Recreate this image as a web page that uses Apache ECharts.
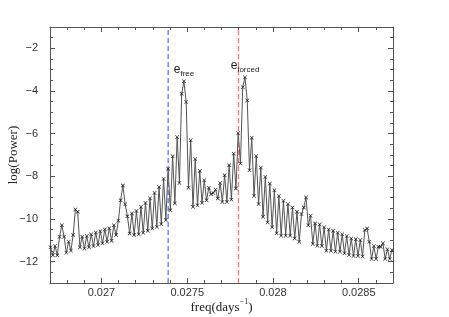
<!DOCTYPE html>
<html>
<head>
<meta charset="utf-8">
<script src="https://cdn.jsdelivr.net/npm/echarts@6/dist/echarts.min.js"></script>
<style>html,body{margin:0;padding:0;background:#fff;}#chart{width:449px;height:317px;}</style>
</head>
<body>
<div id="chart"></div>
<script>
// frequency grid (uniform periodogram sampling)
const freqStart = 0.0267031;
const freqStep = 0.000013184;
// log(Power) values
const logPower = [
-11.33,-11.70,-11.27,-11.70,-10.83,-10.29,-10.83,-11.58,-11.07,-11.48,
-10.75,-9.55,-9.66,-11.33,-10.83,-11.39,-10.80,-11.33,-10.72,-11.27,
-10.63,-11.22,-10.57,-11.14,-10.49,-11.07,-10.43,-11.02,-10.29,-10.75,
-10.08,-9.12,-8.43,-9.31,-9.87,-10.68,-9.74,-10.75,-9.62,-10.72,
-9.43,-10.65,-9.25,-10.55,-9.03,-10.45,-8.78,-10.37,-8.50,-10.24,
-8.12,-10.05,-7.64,-9.59,-7.06,-9.27,-6.16,-8.31,-4.13,-3.54,
-4.52,-8.53,-6.31,-9.43,-7.19,-9.36,-7.75,-9.24,-8.18,-9.12,
-8.53,-8.84,-8.78,-8.62,-9.04,-8.31,-9.20,-7.95,-9.20,-7.48,
-9.09,-6.94,-8.57,-5.97,-7.40,-3.82,-3.36,
-4.44,-7.71,-6.19,-8.92,-7.05,-9.30,-7.59,-9.90,-8.03,-10.16,
-8.34,-10.39,-8.65,-10.67,-8.92,-10.78,-9.15,-10.78,-9.30,-10.78,
-9.46,-10.91,-9.66,-11.07,-9.77,-9.46,-8.99,-10.29,-9.85,-11.17,
-10.21,
-11.25,-10.25,-11.27,-10.39,-11.49,-10.49,-11.49,-10.55,-11.53,-10.64,
-11.53,-10.72,-11.61,-10.80,-11.69,-10.91,-11.73,-10.95,-11.73,-10.99,
-11.76,-10.52,-10.44,-11.07,-11.87,-11.27,-11.87,-11.30,-11.30,-11.14,
-11.87,-11.42,-11.87,-11.45
];
const xMajorTicks = [0.027, 0.0275, 0.028, 0.0285];
const yMajorTicks = [-12, -10, -8, -6, -4, -2];
const freeFreq = 0.027389;
const forcedFreq = 0.027799;
const yMin = -13, yMax = -1;

const points = logPower.map((v, i) => [freqStart + i * freqStep, v]);

const axisColor = '#555';
const labelFont = {fontFamily: 'Liberation Sans', fontSize: 11, color: '#333'};

function xAxisDef(position, major, showLabel, showLine) {
  const a = {
    type: 'value', position: position, min: 0.0267, max: 0.0287,
    splitLine: {show: false},
    axisLine: {show: showLine, lineStyle: {color: axisColor, width: 1}},
    axisTick: {show: true, inside: true, length: major ? 5 : 3, lineStyle: {color: axisColor, width: 1}},
    axisLabel: {show: false}
  };
  if (major) {
    a.axisTick.customValues = xMajorTicks;
    a.axisLabel = {show: showLabel, customValues: xMajorTicks, margin: 4,
      formatter: v => String(+(+v).toFixed(5)), ...labelFont};
  } else {
    a.interval = 0.0001;
  }
  return a;
}
function yAxisDef(position, major, showLabel, showLine) {
  const a = {
    type: 'value', position: position, min: yMin, max: yMax,
    splitLine: {show: false},
    axisLine: {show: showLine, lineStyle: {color: axisColor, width: 1}},
    axisTick: {show: true, inside: true, length: major ? 5 : 3, lineStyle: {color: axisColor, width: 1}},
    axisLabel: {show: false}
  };
  if (major) {
    a.axisTick.customValues = yMajorTicks;
    a.axisLabel = {show: showLabel, customValues: yMajorTicks, margin: 12,
      formatter: v => String(v).replace('-', '\u2212'), ...labelFont};
  } else {
    a.interval = 0.5;
  }
  return a;
}

const xAxes = [
  xAxisDef('bottom', true, true, true),
  xAxisDef('bottom', false, false, false),
  xAxisDef('top', true, false, true),
  xAxisDef('top', false, false, false)
];
xAxes[0].name = '{n|freq(days}{s|\u22121}{n|)}';
xAxes[0].nameLocation = 'middle';
xAxes[0].nameGap = 15;
xAxes[0].nameMoveOverlap = false;
xAxes[0].nameTextStyle = {
  rich: {
    n: {fontFamily: 'Liberation Serif', fontSize: 13, color: '#222', lineHeight: 16, verticalAlign: 'bottom'},
    s: {fontFamily: 'Liberation Serif', fontSize: 8, color: '#222', lineHeight: 8, verticalAlign: 'top'}
  }
};
const yAxes = [
  yAxisDef('left', true, true, true),
  yAxisDef('left', false, false, false),
  yAxisDef('right', true, false, true),
  yAxisDef('right', false, false, false)
];
yAxes[0].name = 'log(Power)';
yAxes[0].nameLocation = 'middle';
yAxes[0].nameRotate = 90;
yAxes[0].nameGap = 30;
yAxes[0].nameMoveOverlap = false;
yAxes[0].nameTextStyle = {fontFamily: 'Liberation Serif', fontSize: 13, color: '#222'};

const textLabel = (coord, text, size) => ({
  coord: coord, symbol: 'circle', symbolSize: 0,
  label: {show: true, position: 'inside', formatter: text, fontFamily: 'Liberation Sans', fontSize: size, color: '#222'}
});

const vline = (freq, color) => ({
  type: 'line', xAxisIndex: 0, yAxisIndex: 0, silent: true,
  data: [[freq, yMin], [freq, yMax]],
  symbol: 'none',
  lineStyle: {color: color, type: [5, 3], width: 1.3}
});

const chart = echarts.init(document.getElementById('chart'), null, {renderer: 'canvas'});
chart.setOption({
  animation: false,
  backgroundColor: '#fff',
  grid: {left: 50, right: 56, top: 27, bottom: 34, containLabel: false, outerBoundsMode: 'none'},
  xAxis: xAxes,
  yAxis: yAxes,
  series: [
    vline(freeFreq, '#6470ff'),
    vline(forcedFreq, '#ff7272'),
    {
      type: 'line',
      xAxisIndex: 0, yAxisIndex: 0,
      data: points,
      showAllSymbol: true,
      symbol: 'path://M0,1 L1,0 L5,4 L9,0 L10,1 L6,5 L10,9 L9,10 L5,6 L1,10 L0,9 L4,5 Z',
      symbolSize: 4,
      itemStyle: {color: '#111'},
      lineStyle: {color: '#555', width: 1},
      markPoint: {
        silent: true,
        data: [
          textLabel([0.0274412, -3.02], 'e', 12),
          textLabel([0.0275006, -3.21], 'free', 8),
          textLabel([0.0277741, -2.83], 'e', 12),
          textLabel([0.0278562, -3.02], 'forced', 8)
        ]
      }
    }
  ]
});
</script>
</body>
</html>
